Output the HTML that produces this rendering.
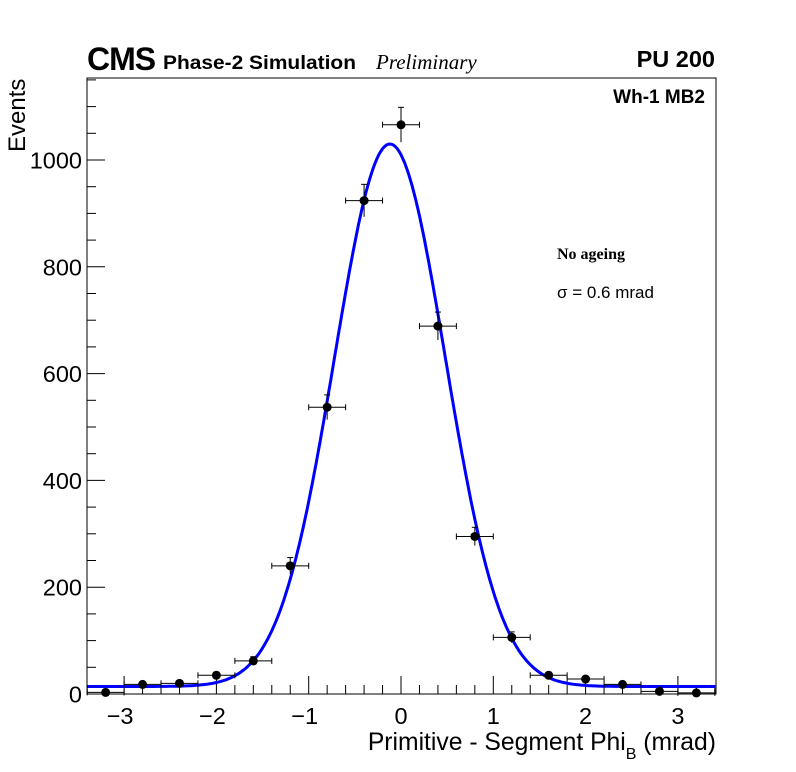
<!DOCTYPE html>
<html><head><meta charset="utf-8"><style>
html,body{margin:0;padding:0;background:#fff;}
svg{display:block;font-family:"Liberation Sans",sans-serif;}
</style></head><body>
<svg id="s" width="796" height="772" xmlns="http://www.w3.org/2000/svg">
<rect width="796" height="772" fill="#fff"/>
<g id="g"></g>
<rect x="87" y="78" width="629" height="616" fill="none" stroke="#000" stroke-width="1"/>
<text x="87" y="70" font-size="32" font-weight="bold" letter-spacing="-1">CMS</text>
<text x="163" y="69" font-size="19.5" font-weight="bold" textLength="193" lengthAdjust="spacingAndGlyphs">Phase-2 Simulation</text>
<text x="376" y="69" font-size="21" font-style="italic" font-family="Liberation Serif, serif">Preliminary</text>
<text x="715" y="67" font-size="23.5" font-weight="bold" text-anchor="end">PU 200</text>
<text x="705" y="103" font-size="19" font-weight="bold" text-anchor="end">Wh-1 MB2</text>
<text x="557" y="259" font-size="16" font-weight="bold" font-family="Liberation Serif, serif">No ageing</text>
<text x="557" y="298" font-size="17">σ = 0.6 mrad</text>
<text transform="translate(25,152) rotate(-90)" font-size="24">Events</text>
<text x="716" y="750" font-size="24.7" text-anchor="end">Primitive - Segment Phi<tspan font-size="16" dy="9">B</tspan><tspan dy="-9"> (mrad)</tspan></text>
</svg>
<script>
var g=document.getElementById('g'),h='';
function X(v){return 401+v*92.3;}function Y(v){return 694-v*0.534;}
for(var i=-17;i<=17;i++){var v=i*0.2;var x=X(v);if(x<87||x>716)continue;var maj=(i%5===0);h+='<line x1="'+x+'" y1="694" x2="'+x+'" y2="'+(694-(maj?18:9))+'" stroke="#000"/>';
if(maj){var n=i/5;h+='<text x="'+(x+(n<0?-4:0))+'" y="724" font-size="23.5" text-anchor="middle">'+(n<0?'\u2212'+(-n):n)+'</text>';}}
for(var v=0;v<=1150;v+=50){var y=Y(v);var maj=(v%200===0);h+='<line x1="87" y1="'+y+'" x2="'+(87+(maj?18:9))+'" y2="'+y+'" stroke="#000"/>';
if(maj)h+='<text x="82" y="'+(y+8.5)+'" font-size="23.5" text-anchor="end">'+v+'</text>';}
var p='';for(var x=-3.4;x<=3.42;x+=0.02){var f=14+1016*Math.exp(-Math.pow(x+0.12,2)/(2*0.36));p+=(p?'L':'M')+X(x).toFixed(1)+' '+Y(f).toFixed(1);}
h+='<path d="'+p+'" fill="none" stroke="#0000ff" stroke-width="3"/>';
var d=[3,18,20,35,62,240,537,924,1066,689,295,106,35,28,18,5,2];
for(var i=0;i<d.length;i++){var xv=-3.2+0.4*i,x=X(xv),y=Y(d[i]),e=Math.sqrt(d[i])*0.534;
var x1=Math.max(87,X(xv-0.2)),x2=Math.min(716,X(xv+0.2));
h+='<line x1="'+x1+'" y1="'+y+'" x2="'+x2+'" y2="'+y+'" stroke="#000"/>';
h+='<line x1="'+x1+'" y1="'+(y-3)+'" x2="'+x1+'" y2="'+(y+3)+'" stroke="#000"/><line x1="'+x2+'" y1="'+(y-3)+'" x2="'+x2+'" y2="'+(y+3)+'" stroke="#000"/>';
h+='<line x1="'+x+'" y1="'+(y-e)+'" x2="'+x+'" y2="'+Math.min(694,y+e)+'" stroke="#000"/>';
h+='<line x1="'+(x-3)+'" y1="'+(y-e)+'" x2="'+(x+3)+'" y2="'+(y-e)+'" stroke="#000"/>';
h+='<circle cx="'+x+'" cy="'+y+'" r="4.5" fill="#000"/>';}
g.innerHTML=h;
</script>
</body></html>
